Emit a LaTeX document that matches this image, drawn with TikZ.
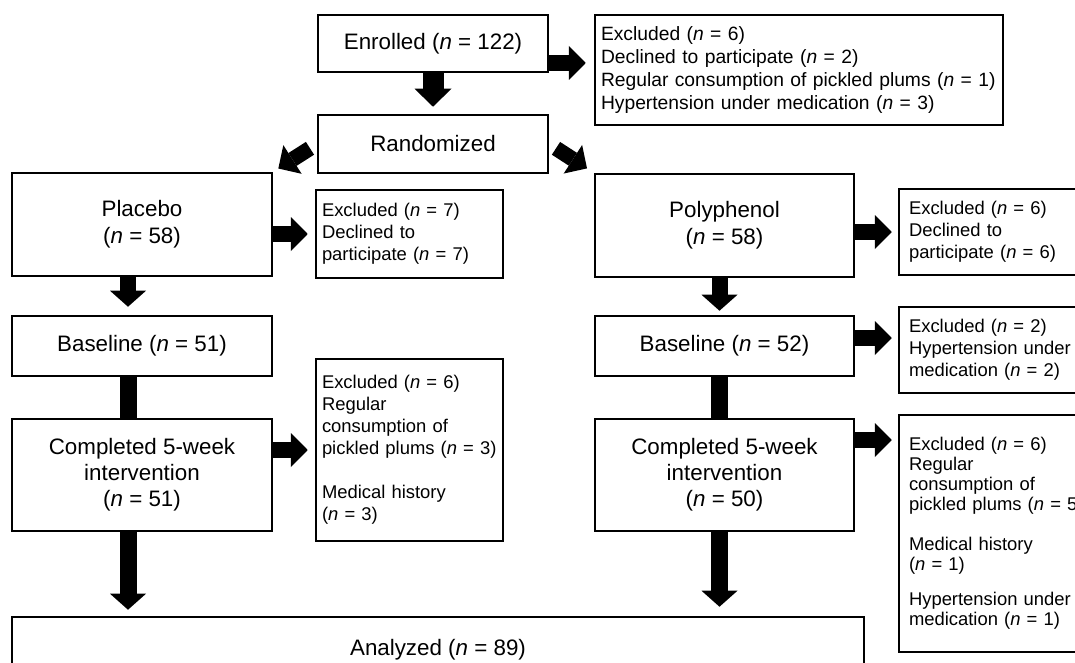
\documentclass[tikz,border=0pt]{standalone}
\usepackage{fontspec}
\setmainfont{Liberation Sans}
\usetikzlibrary{arrows.meta,positioning,calc}

\begin{document}
\begin{tikzpicture}[
    box/.style={draw, line width=1.8pt, align=center, inner sep=0pt, font=\fontsize{15.9}{18.6}\selectfont},
    excl/.style={draw, line width=1.8pt, align=left, inner xsep=0.15cm, inner ysep=0pt, font=\fontsize{13.1}{15.6}\selectfont},
    blockarrow/.style={line width=0.38cm, -{Triangle[width=0.85cm, length=0.42cm, line width=0pt]}, shorten >=0.16cm},
    bar/.style={line width=0.425cm}
]
    \useasboundingbox (0,0) rectangle (26.875,-16.575);

    % Enrolment
    \node[box, minimum width=5.75cm, minimum height=1.425cm] (enrolled) at (10.825,-1.0875) {Enrolled (\textit{n} = 122)};
    \node[excl, inner xsep=0.05cm, text width=10.1cm, minimum height=2.75cm, font=\fontsize{13.7}{16.4}\selectfont] (excl0) at (19.975,-1.75)
        {\hspace*{0.1cm}Excluded (\textit{n} = 6)\\\hspace*{0.1cm}Declined to participate (\textit{n} = 2)\\\hspace*{0.1cm}Regular consumption of pickled plums (\textit{n} = 1)\\\hspace*{0.1cm}Hypertension under medication (\textit{n} = 3)};
    \node[box, minimum width=5.75cm, minimum height=1.45cm] (random) at (10.825,-3.6) {Randomized};

    % Placebo arm
    \node[box, minimum width=6.5cm, minimum height=2.575cm, font=\fontsize{15.9}{19.2}\selectfont] (placebo) at (3.55,-5.6125) {Placebo\\(\textit{n} = 58)};
    \node[excl, text width=4.375cm, minimum height=2.2cm] (exclP1) at (10.2375,-5.85)
        {Excluded (\textit{n} = 7)\\Declined to\\participate (\textit{n} = 7)};
    \node[box, minimum width=6.5cm, minimum height=1.5cm] (baseP) at (3.55,-8.65) {Baseline (\textit{n} = 51)};
    \node[box, minimum width=6.5cm, minimum height=2.8cm] (compP) at (3.55,-11.875) {Completed 5-week\\intervention\\(\textit{n} = 51)};
    \node[excl, text width=4.375cm, minimum height=4.55cm] (exclP2) at (10.2375,-11.25)
        {Excluded (\textit{n} = 6)\\Regular\\consumption of\\pickled plums (\textit{n} = 3)\\[15.6pt]Medical history\\(\textit{n} = 3)};

    % Polyphenol arm
    \node[box, minimum width=6.475cm, minimum height=2.575cm, font=\fontsize{15.9}{19.2}\selectfont] (poly) at (18.1125,-5.6375) {Polyphenol\\(\textit{n} = 58)};
    \node[excl, inner xsep=0.25cm, text width=4.525cm, minimum height=2.15cm] (exclY1) at (24.9875,-5.8)
        {Excluded (\textit{n} = 6)\\Declined to\\participate (\textit{n} = 6)};
    \node[box, minimum width=6.475cm, minimum height=1.5cm] (baseY) at (18.1125,-8.65) {Baseline (\textit{n} = 52)};
    \node[excl, inner xsep=0.25cm, text width=4.525cm, minimum height=2.15cm] (exclY2) at (24.9875,-8.75)
        {Excluded (\textit{n} = 2)\\Hypertension under\\medication (\textit{n} = 2)};
    \node[box, minimum width=6.475cm, minimum height=2.8cm] (compY) at (18.1125,-11.875) {Completed 5-week\\intervention\\(\textit{n} = 50)};
    \node[excl, inner xsep=0.25cm, text width=4.525cm, minimum height=5.925cm, font=\fontsize{13.1}{14.2}\selectfont] (exclY3) at (24.9875,-13.3375)
        {Excluded (\textit{n} = 6)\\Regular\\consumption of\\pickled plums (\textit{n} = 5)\\[14.2pt]Medical history\\(\textit{n} = 1)\\[10.6pt]Hypertension under\\medication (\textit{n} = 1)};

    \node[box, minimum width=21.3cm, minimum height=1.65cm] (analyzed) at (10.95,-16.25) {Analyzed (\textit{n} = 89)};

    % Arrows
    \draw[blockarrow, line width=0.525cm, -{Triangle[width=0.925cm, length=0.45cm, line width=0pt]}, shorten >=0.175cm] (enrolled) -- (random);
    \draw[blockarrow, shorten >=0.2cm] ([yshift=-0.4875cm]enrolled.east) -- ([yshift=-0.4875cm]enrolled.east -| excl0.west);
    \draw[blockarrow, shorten <=0.2cm, shorten >=0.15cm] (random.west) -- (placebo.north east);
    \draw[blockarrow, shorten <=0.2cm, shorten >=0.2cm] (random.east) -- (poly.north west);

    \draw[blockarrow, shorten >=0.175cm] (placebo.east |- exclP1.west) -- (exclP1.west);
    \draw[blockarrow, line width=0.4cm, -{Triangle[width=0.9cm, length=0.4cm, line width=0pt]}, shorten >=0.2cm] ([xshift=-0.35cm]placebo.south) -- ([xshift=-0.35cm]baseP.north);
    \draw[bar] ([xshift=-0.35cm]baseP.south) -- ([xshift=-0.35cm]compP.north);
    \draw[blockarrow, shorten >=0.175cm] (compP.east |- exclP2.west) -- (exclP2.west);
    \draw[blockarrow, line width=0.425cm, -{Triangle[width=0.9cm, length=0.4cm, line width=0pt]}, shorten >=0.15cm] ([xshift=-0.35cm]compP.south) -- ([xshift=-0.35cm]compP.south |- analyzed.north);

    \draw[blockarrow, shorten >=0.15cm] (poly.east |- exclY1.west) -- (exclY1.west);
    \draw[blockarrow, line width=0.4cm, -{Triangle[width=0.9cm, length=0.4cm, line width=0pt]}, shorten >=0.1cm] ([xshift=-0.125cm]poly.south) -- ([xshift=-0.125cm]baseY.north);
    \draw[blockarrow, shorten >=0.15cm] ([yshift=0.2cm]baseY.east) -- ([yshift=0.2cm]baseY.east -| exclY2.west);
    \draw[bar] ([xshift=-0.125cm]baseY.south) -- ([xshift=-0.125cm]compY.north);
    \draw[blockarrow, shorten >=0.15cm] ([yshift=0.875cm]compY.east) -- ([yshift=0.875cm]compY.east -| exclY3.west);
    \draw[blockarrow, line width=0.425cm, -{Triangle[width=0.9cm, length=0.4cm, line width=0pt]}, shorten >=0.225cm] ([xshift=-0.125cm]compY.south) -- ([xshift=-0.125cm]compY.south |- analyzed.north);
\end{tikzpicture}
\end{document}
